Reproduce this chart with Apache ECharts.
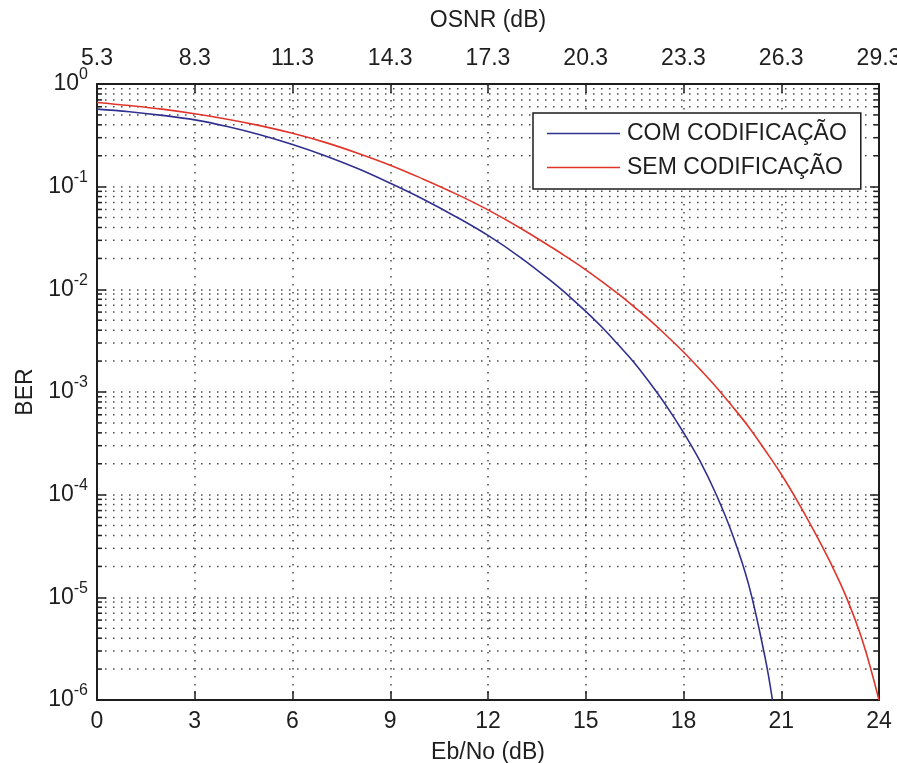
<!DOCTYPE html>
<html>
<head>
<meta charset="utf-8">
<script src="https://cdn.jsdelivr.net/npm/echarts@6/dist/echarts.min.js"></script>
<style>
  html, body { margin: 0; padding: 0; background: #fff; }
  #chart { width: 897px; height: 763px; }
</style>
</head>
<body>
<div id="chart"></div>
<script>
// Eb/No sample points (dB) and the BER read at each point
const ebnoCoded = [0, 1, 2, 3, 4, 5, 6, 7, 8, 9, 10, 11, 12, 13, 14, 14.5, 15, 15.5, 16, 16.5, 17, 17.5, 18, 18.5,
  19, 19.5, 20, 20.5, 20.73];
const berCoded = [0.569, 0.537, 0.495, 0.447, 0.385, 0.320, 0.257, 0.200, 0.150, 0.108, 0.0759, 0.0513, 0.0335, 0.0204,
  0.0116, 8.51e-3, 6.10e-3, 4.27e-3, 2.88e-3, 1.91e-3, 1.19e-3, 7.13e-4, 4.03e-4, 2.14e-4,
  1.01e-4, 4.12e-5, 1.33e-5, 2.63e-6, 1e-6];

const ebnoUncoded = [0, 1, 2, 3, 4, 5, 6, 7, 8, 9, 10, 11, 12, 13, 14, 14.5, 15, 15.5, 16, 16.5, 17, 17.5, 18, 18.5,
  19, 19.5, 20, 20.5, 21, 21.5, 22, 22.5, 23, 23.5, 24];
const berUncoded = [0.661, 0.617, 0.569, 0.513, 0.454, 0.393, 0.331, 0.270, 0.212, 0.162, 0.119, 0.0855, 0.0594, 0.0394,
  0.0251, 0.0198, 0.0155, 0.0119, 9.02e-3, 6.68e-3, 4.90e-3, 3.49e-3, 2.45e-3, 1.67e-3,
  1.12e-3, 7.24e-4, 4.57e-4, 2.72e-4, 1.58e-4, 8.61e-5, 4.47e-5, 2.21e-5, 1.00e-5, 3.72e-6, 1e-6];

// Axis ticks: bottom Eb/No axis and the matching OSNR labels on top
const ebnoTicks = [0, 3, 6, 9, 12, 15, 18, 21, 24];
const osnrTicks = ['5.3', '8.3', '11.3', '14.3', '17.3', '20.3', '23.3', '26.3', '29.3'];
const seriesNames = ['COM CODIFICAÇÃO', 'SEM CODIFICAÇÃO'];

// Minor log grid values: 2..9 within every decade
const minorValues = [];
for (let e = -6; e < 0; e++) {
  for (let m = 2; m <= 9; m++) minorValues.push(m * Math.pow(10, e));
}

const FONT = '"Liberation Sans", Arial, sans-serif';
const FS = 23;
const TXT = '#1e1e1e';
const BLUE = '#30308f';
const RED = '#e0352b';
const dotted = { type: [1.5, 6.5], color: '#4a4a4a', width: 1.5 };
// thin horizontal bar used as the legend key
const legendLine = 'path://M0,0H100V2H0Z';

const chart = echarts.init(document.getElementById('chart'), null, { renderer: 'canvas' });

const frameAxis = {
  axisLine: { show: true, onZero: false, lineStyle: { color: '#1e1e1e', width: 2 } },
  axisTick: { show: true, inside: true, length: 9, lineStyle: { color: '#1e1e1e', width: 1.5 } }
};

const option = {
  backgroundColor: '#ffffff',
  animation: false,
  textStyle: { fontFamily: FONT, color: TXT },
  grid: { left: 97, top: 84, right: 18, bottom: 63, containLabel: false, outerBoundsMode: 'none' },
  legend: {
    data: [
      { name: seriesNames[0], icon: legendLine, itemStyle: { color: BLUE } },
      { name: seriesNames[1], icon: legendLine, itemStyle: { color: RED } }
    ],
    orient: 'vertical',
    left: 533,
    top: 113,
    padding: [9, 14, 10, 14],
    itemGap: 11,
    itemWidth: 73,
    itemHeight: 2,
    backgroundColor: '#ffffff',
    borderColor: '#1e1e1e',
    borderWidth: 1.5,
    borderRadius: 0,
    textStyle: { fontFamily: FONT, fontSize: FS, color: TXT, lineHeight: 22, padding: [0, 0, 0, 2] }
  },
  xAxis: [
    Object.assign({
      type: 'value', position: 'bottom', min: 0, max: 24, interval: 3,
      name: 'Eb/No (dB)', nameLocation: 'middle', nameGap: 41,
      nameTextStyle: { fontFamily: FONT, fontSize: FS, color: TXT },
      axisLabel: { fontFamily: FONT, fontSize: FS, color: TXT, margin: 10, formatter: v => String(v) },
      splitLine: { show: true, lineStyle: dotted }
    }, frameAxis),
    Object.assign({
      type: 'value', position: 'top', min: 0, max: 24, interval: 3,
      name: 'OSNR (dB)', nameLocation: 'middle', nameGap: 52,
      nameTextStyle: { fontFamily: FONT, fontSize: FS, color: TXT },
      axisLabel: {
        fontFamily: FONT, fontSize: FS, color: TXT, margin: 14,
        formatter: v => osnrTicks[ebnoTicks.indexOf(Math.round(v))] || ''
      },
      splitLine: { show: false }
    }, frameAxis)
  ],
  yAxis: [
    Object.assign({
      type: 'log', logBase: 10, min: 1e-6, max: 1, position: 'left',
      name: 'BER', nameLocation: 'middle', nameGap: 60, nameRotate: 90,
      nameTextStyle: { fontFamily: FONT, fontSize: FS, color: TXT },
      axisLabel: {
        margin: 9, color: TXT,
        formatter: v => '{b|10}{s|' + Math.round(Math.log10(v)) + '}',
        rich: {
          b: { fontFamily: FONT, fontSize: FS, color: TXT, lineHeight: 34 },
          s: { fontFamily: FONT, fontSize: 16, color: TXT, lineHeight: 16, verticalAlign: 'top' }
        }
      },
      splitLine: { show: true, lineStyle: dotted }
    }, frameAxis),
    Object.assign({
      type: 'log', logBase: 10, min: 1e-6, max: 1, position: 'right',
      axisLabel: { show: false },
      splitLine: { show: false }
    }, frameAxis)
  ],
  series: [
    {
      // dotted minor grid lines with short inward ticks on both sides
      type: 'custom',
      name: 'minor',
      silent: true,
      z: 1,
      xAxisIndex: 0,
      yAxisIndex: 0,
      data: minorValues.map(v => [0, v]),
      renderItem: function (params, api) {
        const v = api.value(1);
        const a = api.coord([0, v]);
        const b = api.coord([24, v]);
        return {
          type: 'group',
          children: [
            { type: 'line', shape: { x1: a[0], y1: a[1], x2: b[0], y2: b[1] },
              style: { stroke: '#4a4a4a', lineWidth: 1.5, lineDash: [1.5, 6.5] } },
            { type: 'line', shape: { x1: a[0], y1: a[1], x2: a[0] + 5, y2: a[1] },
              style: { stroke: '#1e1e1e', lineWidth: 1.5 } },
            { type: 'line', shape: { x1: b[0] - 5, y1: b[1], x2: b[0], y2: b[1] },
              style: { stroke: '#1e1e1e', lineWidth: 1.5 } }
          ]
        };
      }
    },
    {
      name: seriesNames[0],
      type: 'line',
      smooth: 0.4,
      symbol: 'none',
      z: 5,
      color: BLUE,
      lineStyle: { color: BLUE, width: 1.6 },
      data: ebnoCoded.map((x, i) => [x, berCoded[i]])
    },
    {
      name: seriesNames[1],
      type: 'line',
      smooth: 0.4,
      symbol: 'none',
      z: 5,
      color: RED,
      lineStyle: { color: RED, width: 1.6 },
      data: ebnoUncoded.map((x, i) => [x, berUncoded[i]])
    }
  ]
};

chart.setOption(option);
</script>
</body>
</html>
